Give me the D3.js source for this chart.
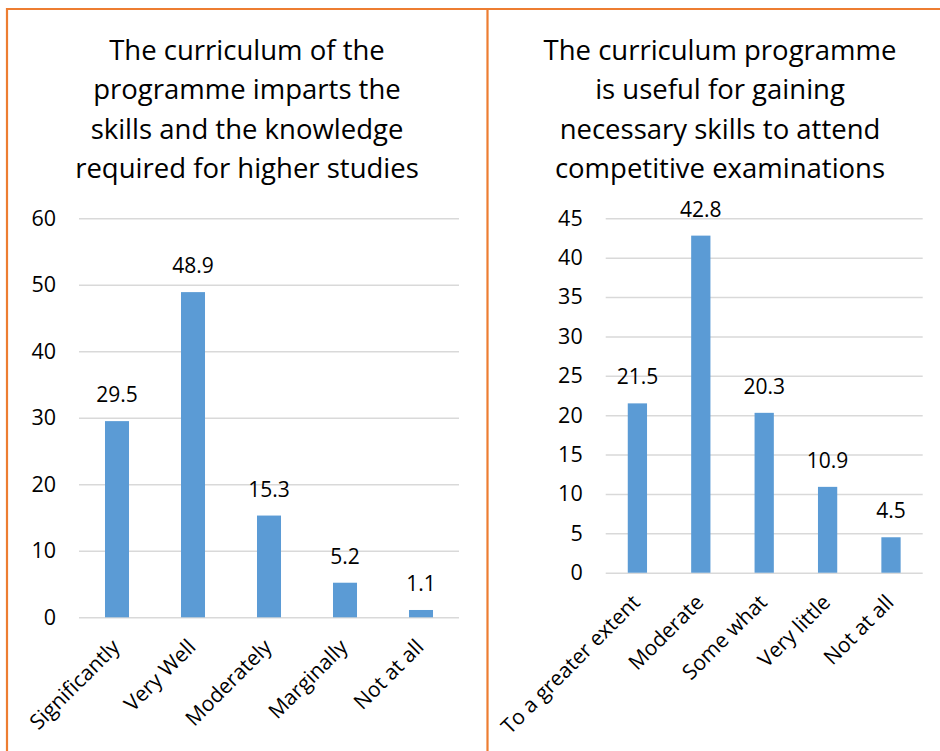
<!DOCTYPE html>
<html>
<head>
<meta charset="utf-8">
<script src="https://cdn.jsdelivr.net/npm/d3@7"></script>
<style>
  body { margin: 0; background: #fff; }
  svg { display: block; }
</style>
</head>
<body>
<div id="viz"></div>
<script>
// data
var leftTitle = ["The curriculum of the", "programme imparts the", "skills and the knowledge", "required for higher studies"]
var leftCategories = ["Significantly", "Very Well", "Moderately", "Marginally", "Not at all"]
var leftValues = [29.5, 48.9, 15.3, 5.2, 1.1]
var leftTicks = [0, 10, 20, 30, 40, 50, 60]

var rightTitle = ["The curriculum programme", "is useful for gaining", "necessary skills to attend", "competitive examinations"]
var rightCategories = ["To a greater extent", "Moderate", "Some what", "Very little", "Not at all"]
var rightValues = [21.5, 42.8, 20.3, 10.9, 4.5]
var rightTicks = [0, 5, 10, 15, 20, 25, 30, 35, 40, 45]

var width = 940
	height = 751
	font = "'Open Sans', 'Noto Sans', sans-serif"
	barColor = "#5b9bd5"
	gridColor = "#d9d9d9"
	borderColor = "#ed7d31"

var svg = d3.select("#viz")
	.append("svg")
	.attr("width", width)
	.attr("height", height)

// orange frame round the two panels
svg.append("path")
	.attr("d", "M7,751 V9 H940 M487.5,9 V751")
	.attr("fill", "none")
	.attr("stroke", borderColor)
	.attr("stroke-width", 2.2)

function drawChart(opts) {
	var g = svg.append("g")

	// title, four centred lines
	g.append("text")
		.attr("text-anchor", "middle")
		.attr("font-family", font)
		.attr("font-size", 27.5)
		.attr("fill", "#000")
		.selectAll("tspan")
		.data(opts.title)
		.enter()
		.append("tspan")
		.attr("x", opts.titleX)
		.attr("y", function(d, i) { return 60 + i * 39.3 })
		.text(function(d) { return d })

	var x = d3.scaleBand()
		.domain(opts.categories)
		.range([opts.left, opts.right])
		.paddingInner(opts.pad)
		.paddingOuter(opts.pad / 2)

	var y = d3.scaleLinear()
		.domain([0, d3.max(opts.ticks)])
		.range([opts.bottom, opts.top])

	// gridlines + tick labels
	var yAxis = g.append("g")
		.attr("transform", "translate(" + opts.left + ",0)")
		.call(d3.axisLeft(y)
			.tickValues(opts.ticks)
			.tickSize(-(opts.right - opts.left))
			.tickPadding(23)
		)
	yAxis.select(".domain").remove()
	yAxis.selectAll("line")
		.attr("stroke", gridColor)
		.attr("stroke-width", 1.5)
	yAxis.selectAll("text")
		.attr("font-family", font)
		.attr("font-size", 21.5)
		.attr("fill", "#000")

	// bars
	g.selectAll(".bar")
		.data(opts.values)
		.enter()
		.append("rect")
		.attr("x", function(d, i) { return x(opts.categories[i]) })
		.attr("y", function(d) { return y(d) })
		.attr("width", x.bandwidth())
		.attr("height", function(d) { return y(0) - y(d) })
		.attr("fill", barColor)

	// value labels above bars
	g.selectAll(".val")
		.data(opts.values)
		.enter()
		.append("text")
		.attr("x", function(d, i) { return x(opts.categories[i]) + x.bandwidth() / 2 })
		.attr("y", function(d) { return y(d) - 19 })
		.attr("text-anchor", "middle")
		.attr("font-family", font)
		.attr("font-size", 21)
		.attr("fill", "#000")
		.text(function(d) { return d })

	// rotated category labels
	g.selectAll(".cat")
		.data(opts.categories)
		.enter()
		.append("text")
		.attr("transform", function(d) {
			var cx = x(d) + x.bandwidth() / 2
			return "translate(" + (cx + 4) + "," + (opts.bottom + 31) + ") rotate(-45)"
		})
		.attr("text-anchor", "end")
		.attr("font-family", font)
		.attr("font-size", 21)
		.attr("fill", "#000")
		.text(function(d) { return d })
}

drawChart({
	title: leftTitle, titleX: 247,
	categories: leftCategories, values: leftValues, ticks: leftTicks,
	left: 79, right: 459, top: 218.3, bottom: 617.3, pad: 0.684
})

drawChart({
	title: rightTitle, titleX: 720,
	categories: rightCategories, values: rightValues, ticks: rightTicks,
	left: 605.7, right: 922.7, top: 218.3, bottom: 572.7, pad: 0.696
})
</script>
</body>
</html>
